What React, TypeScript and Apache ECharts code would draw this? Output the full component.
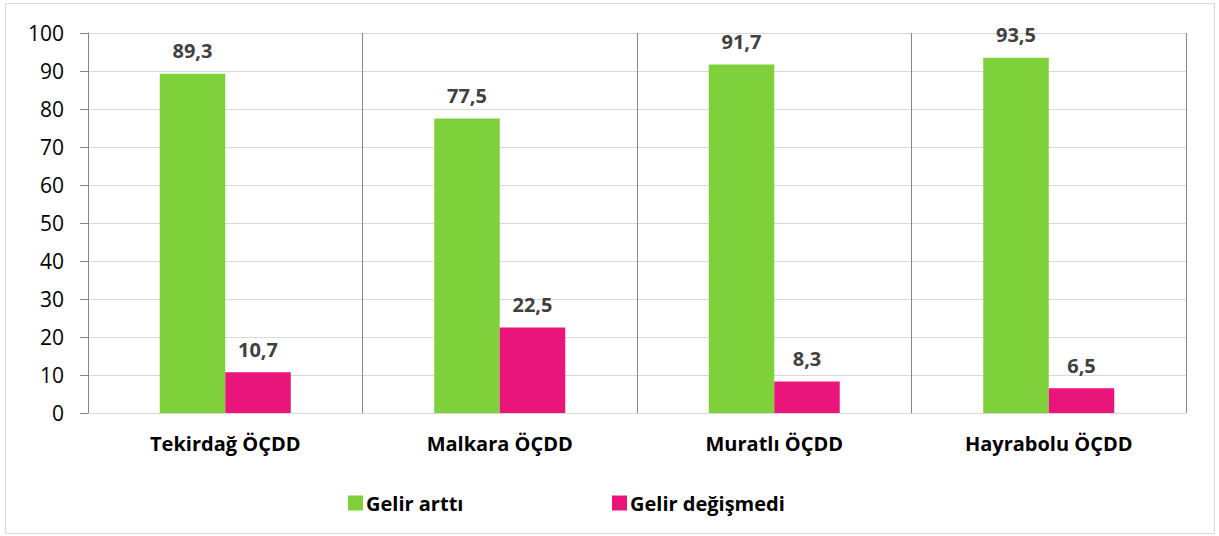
import React, { useEffect, useRef } from "react";
import * as echarts from "echarts";

const categories = ["Tekirdağ ÖÇDD", "Malkara ÖÇDD", "Muratlı ÖÇDD", "Hayrabolu ÖÇDD"];
const gelirArtti = [89.3, 77.5, 91.7, 93.5];
const gelirDegismedi = [10.7, 22.5, 8.3, 6.5];
const seriesNames = ["Gelir arttı", "Gelir değişmedi"];
const colors = ["#7ED13B", "#EA157A"];

const FONT = "'Open Sans', 'Noto Sans', sans-serif";

export default function App() {
  const ref = useRef<HTMLDivElement>(null);
  useEffect(() => {
    if (!ref.current) return;
    const chart = echarts.init(ref.current, undefined, { renderer: "svg" });
    const label = {
      show: true,
      position: "top" as const,
      distance: 13,
      color: "#404040",
      fontSize: 20,
      fontWeight: "bold" as const,
      fontFamily: FONT,
      formatter: (p: any) => String(p.value).replace(".", ","),
    };
    const legendText = {
      fontSize: 20,
      fontWeight: "bold" as const,
      color: "#000",
      fontFamily: FONT,
      padding: [0, 0, 0, -2],
    };
    chart.setOption({
      animation: false,
      backgroundColor: "#ffffff",
      textStyle: { fontFamily: FONT },
      graphic: [
        {
          type: "rect",
          shape: { x: 5.5, y: 3.5, width: 1209, height: 530 },
          style: { fill: "none", stroke: "#d9d9d9", lineWidth: 1 },
          silent: true,
        },
      ],
      legend: [
        {
          data: [seriesNames[0]],
          left: 343,
          top: 488,
          itemWidth: 15,
          itemHeight: 15,
          icon: "rect",
          textStyle: legendText,
        },
        {
          data: [seriesNames[1]],
          left: 607,
          top: 488,
          itemWidth: 15,
          itemHeight: 15,
          icon: "rect",
          textStyle: legendText,
        },
      ],
      grid: { left: 88, top: 33, right: 33, bottom: 123, containLabel: false },
      xAxis: {
        type: "category",
        data: categories,
        axisLine: { show: true, lineStyle: { color: "#d9d9d9", width: 1 } },
        axisTick: { show: false },
        splitLine: { show: true, lineStyle: { color: "#868686", width: 1 } },
        axisLabel: {
          color: "#000",
          fontSize: 20,
          fontWeight: "bold",
          fontFamily: FONT,
          margin: 20,
        },
      },
      yAxis: {
        type: "value",
        min: 0,
        max: 100,
        interval: 10,
        axisLine: { show: true, lineStyle: { color: "#868686", width: 1 } },
        axisTick: { show: true, inside: false, length: 8, lineStyle: { color: "#868686" } },
        splitLine: { show: true, lineStyle: { color: "#d9d9d9", width: 1 } },
        axisLabel: { color: "#000", fontSize: 21, fontFamily: FONT, margin: 24 },
      },
      series: [
        {
          name: seriesNames[0],
          type: "bar",
          data: gelirArtti,
          barWidth: 65.5,
          barGap: "0%",
          itemStyle: { color: colors[0] },
          label,
        },
        {
          name: seriesNames[1],
          type: "bar",
          data: gelirDegismedi,
          barWidth: 65.5,
          barGap: "0%",
          itemStyle: { color: colors[1] },
          label,
        },
      ],
    });
    return () => chart.dispose();
  }, []);
  return (
    <div
      ref={ref}
      style={{ position: "absolute", left: 0, top: 0, width: 1219, height: 536 }}
    />
  );
}
